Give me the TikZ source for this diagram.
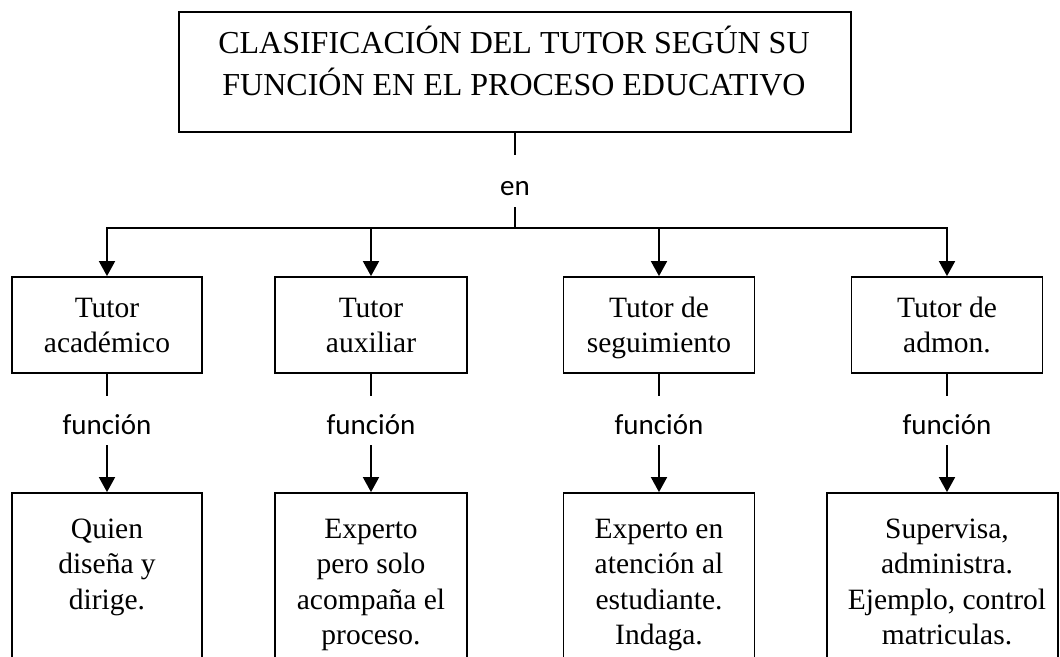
\documentclass[tikz,border=0pt]{standalone}
\usepackage{fontspec}
\setmainfont{Liberation Serif}
\newfontfamily\lblfont{Carlito}
\usetikzlibrary{arrows.meta}
\newcommand{\mystrut}[1]{\rule{0pt}{#1}}
\begin{document}
\begin{tikzpicture}[x=1pt,y=-1pt,
  box/.style={draw, line width=1.8pt, inner sep=0pt},
  txt/.style={anchor=north, align=center, inner sep=0pt, font=\fontsize{29.5}{35.5}\selectfont},
  ttxt/.style={anchor=north, align=center, inner sep=0pt, font=\fontsize{32}{42}\selectfont},
  lbl/.style={inner sep=0pt, font=\lblfont\fontsize{29}{34}\selectfont, text height=28.5pt, text depth=0pt},
  conn/.style={line width=1.8pt},
  arr/.style={line width=1.8pt, -{Triangle[width=16pt,length=15pt]}}]
\useasboundingbox (0,0) rectangle (1060,656);
\fill[white] (0,0) rectangle (1060,656);
\clip (0,0) rectangle (1060,656);

% title
\node[box, minimum width=672pt, minimum height=120pt] (title) at (515,72) {};
\node[ttxt] (titletxt) at (514,22) {\mystrut{31pt}CLASIFICACIÓN DEL TUTOR SEGÚN SU\\FUNCIÓN EN EL PROCESO EDUCATIVO};

% en label
\node[lbl, minimum height=52pt] (en) at (515,181) {en};
\coordinate (hub) at (515,228);

% first row boxes
\node[box, minimum width=190pt, minimum height=96pt] (t1) at (107,325) {};
\node[box, minimum width=192pt, minimum height=96pt] (t2) at (371,325) {};
\node[box, minimum width=191pt, minimum height=96pt] (t3) at (659,325) {};
\node[box, minimum width=191pt, minimum height=96pt] (t4) at (947,325) {};
\node[txt] (t1txt) at (107,293) {\mystrut{24pt}Tutor\\académico};
\node[txt] (t2txt) at (371,293) {\mystrut{24pt}Tutor\\auxiliar};
\node[txt] (t3txt) at (659,293) {\mystrut{24pt}Tutor de\\seguimiento};
\node[txt] (t4txt) at (947,293) {\mystrut{24pt}Tutor de\\admon.};

% funcion labels
\node[lbl, minimum height=49pt] (f1) at (107,420.5) {función};
\node[lbl, minimum height=49pt] (f2) at (371,420.5) {función};
\node[lbl, minimum height=49pt] (f3) at (659,420.5) {función};
\node[lbl, minimum height=49pt] (f4) at (947,420.5) {función};

% second row boxes (cut by the lower edge)
\node[box, minimum width=190pt, minimum height=227pt] (d1) at (107,606.5) {};
\node[box, minimum width=192pt, minimum height=227pt] (d2) at (371,606.5) {};
\node[box, minimum width=191pt, minimum height=227pt] (d3) at (659,606.5) {};
\node[box, minimum width=231pt, minimum height=227pt] (d4) at (942.5,606.5) {};
\node[txt] (d1txt) at (107,514) {\mystrut{24pt}Quien\\diseña y\\dirige.};
\node[txt] (d2txt) at (371,514) {\mystrut{24pt}Experto\\pero solo\\acompaña el\\proceso.};
\node[txt] (d3txt) at (659,514) {\mystrut{24pt}Experto en\\atención al\\estudiante.\\Indaga.};
\node[txt] (d4txt) at (947,514) {\mystrut{24pt}Supervisa,\\administra.\\Ejemplo, control\\matriculas.};

% connectors
\draw[conn] (title.south) -- (en.north);
\draw[conn] (en.south) -- (hub);
\draw[arr] (hub) -| (t1.north);
\draw[arr] (hub) -| (t2.north);
\draw[arr] (hub) -| (t3.north);
\draw[arr] (hub) -| (t4.north);
\foreach \i in {1,2,3,4}{
  \draw[conn] (t\i.south) -- (f\i.north);
  \draw[arr] (f\i.south) -- (f\i.south |- d\i.north);
}
\end{tikzpicture}
\end{document}
